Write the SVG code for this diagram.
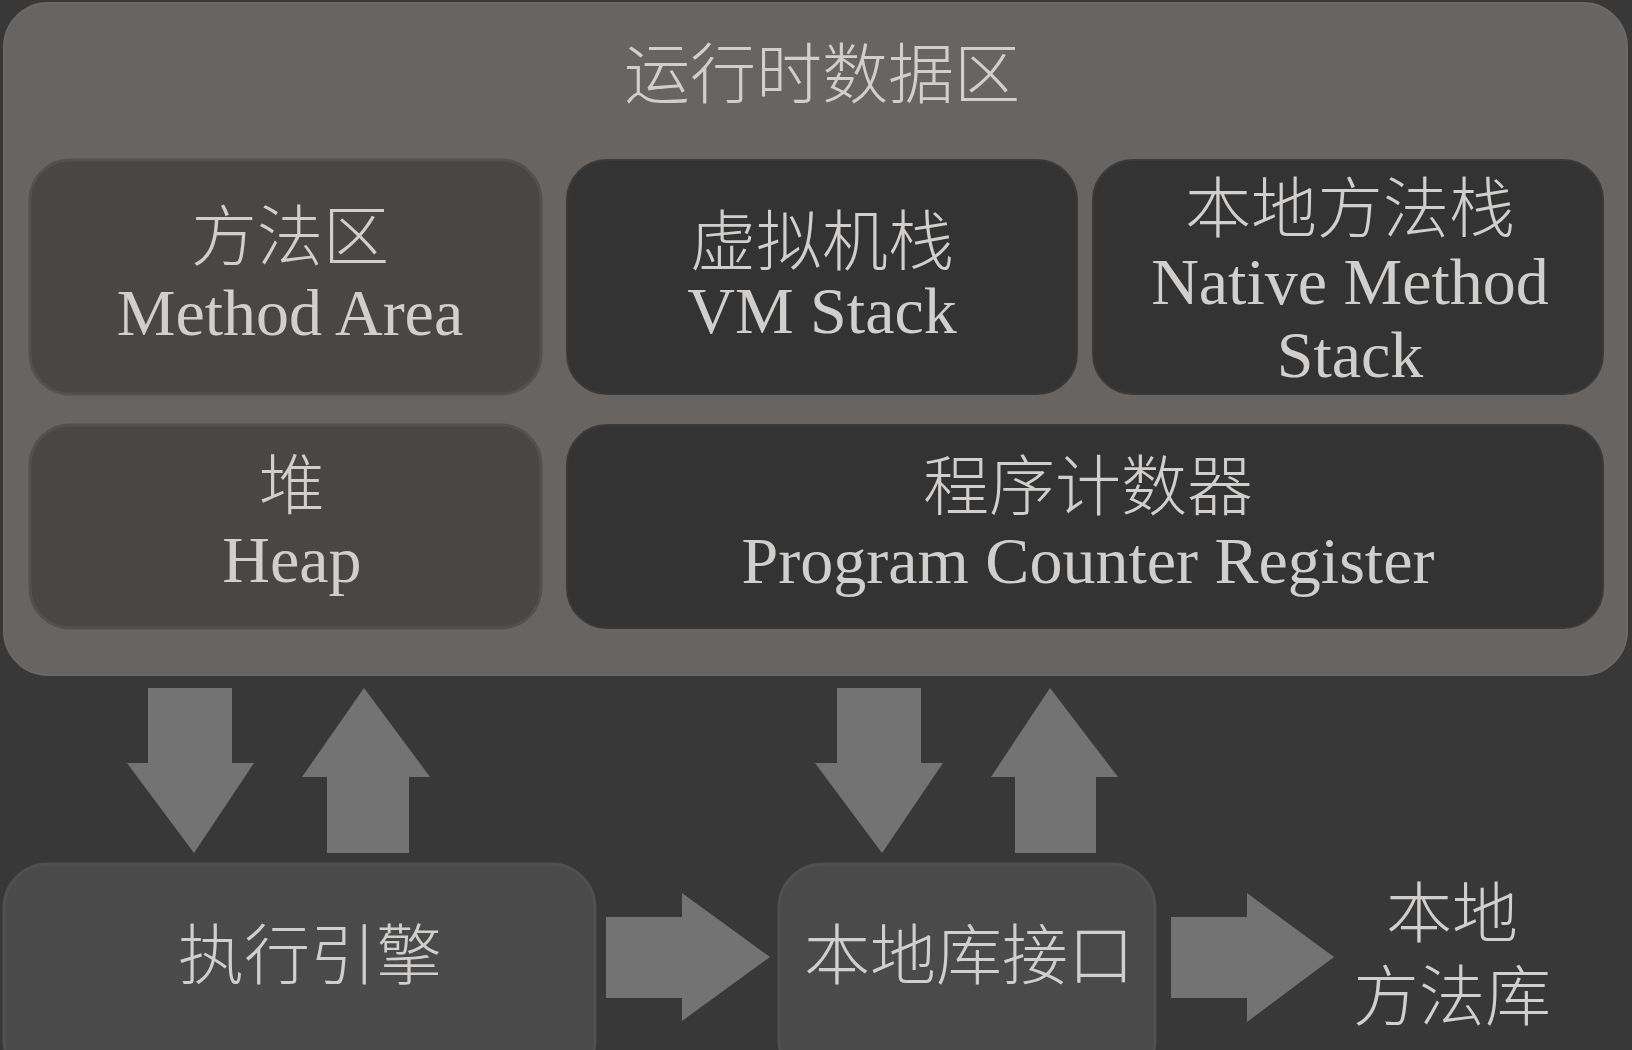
<svg xmlns="http://www.w3.org/2000/svg" width="1632" height="1050" viewBox="0 0 1632 1050">
<style>
.t{font-family:"Liberation Serif","Noto Sans CJK SC",serif;fill:#d0cfcd;text-anchor:middle;font-size:66px}
.c{font-family:"Noto Sans CJK SC",sans-serif;font-weight:300;fill:#d0cfcd;text-anchor:middle;font-size:66px}
.light{fill:#494746;stroke:#525050;stroke-width:3}
.dark{fill:#333333;stroke:#3a3a3a;stroke-width:2}
.low{fill:#4a4a4a;stroke:#505050;stroke-width:3}
.arr{fill:#747373}
</style>
<rect x="0" y="0" width="1632" height="1050" fill="#383838"/>
<g id="runtime-data-area">
<rect x="4" y="3" width="1623" height="672" rx="44" fill="#676462" stroke="#6b6866" stroke-width="2"/>
<text class="c" x="822" y="98">运行时数据区</text>
</g>
<g id="method-area">
<rect class="light" x="30" y="160" width="511" height="234" rx="40"/>
<text class="c" x="290" y="260">方法区</text>
<text class="t" x="290" y="335">Method Area</text>
</g>
<g id="vm-stack">
<rect class="dark" x="567" y="160" width="510" height="234" rx="40"/>
<text class="c" x="822" y="265">虚拟机栈</text>
<text class="t" x="822" y="333">VM Stack</text>
</g>
<g id="native-method-stack">
<rect class="dark" x="1093" y="160" width="510" height="234" rx="40"/>
<text class="c" x="1350" y="232">本地方法栈</text>
<text class="t" x="1350" y="304">Native Method</text>
<text class="t" x="1350" y="377">Stack</text>
</g>
<g id="heap">
<rect class="light" x="30" y="425" width="511" height="203" rx="40"/>
<text class="c" x="292" y="509">堆</text>
<text class="t" x="292" y="582">Heap</text>
</g>
<g id="program-counter-register">
<rect class="dark" x="567" y="425" width="1036" height="203" rx="40"/>
<text class="c" x="1088" y="510">程序计数器</text>
<text class="t" x="1088" y="583">Program Counter Register</text>
</g>
<g id="execution-engine">
<rect class="low" x="4" y="864" width="591" height="220" rx="44"/>
<text class="c" x="310" y="979">执行引擎</text>
</g>
<g id="native-interface">
<rect class="low" x="779" y="864" width="376" height="220" rx="44"/>
<text class="c" x="969" y="979">本地库接口</text>
</g>
<g id="native-method-library">
<text class="c" x="1452" y="937">本地</text>
<text class="c" x="1452" y="1020">方法库</text>
</g>
<g id="connectors">
<polygon class="arr" points="148,688 232,688 232,763 254,763 194,853 127,763 148,763"/>
<polygon class="arr" points="364,688 430,777 409,777 409,853 327,853 327,777 302,777"/>
<polygon class="arr" points="837,688 921,688 921,763 943,763 882,853 815,763 837,763"/>
<polygon class="arr" points="1050,688 1118,777 1096,777 1096,853 1015,853 1015,777 991,777"/>
<polygon class="arr" points="606,917 682,917 682,893 770,957 682,1021 682,998 606,998"/>
<polygon class="arr" points="1171,917 1247,917 1247,893 1334,957 1247,1022 1247,998 1171,998"/>
</g>
</svg>
